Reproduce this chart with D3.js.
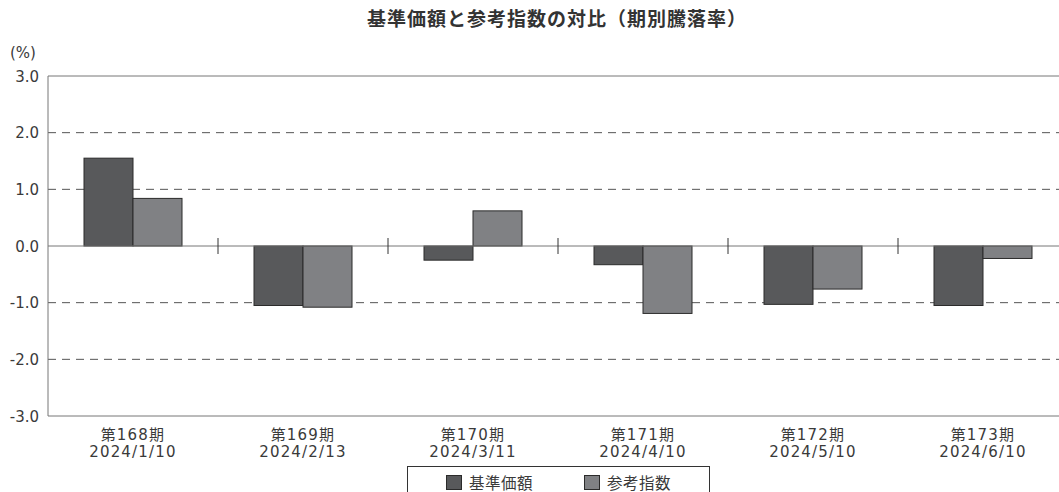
<!DOCTYPE html>
<html>
<head>
<meta charset="utf-8">
<script src="https://cdn.jsdelivr.net/npm/d3@7"></script>
<style>
  body { margin: 0; background: #fff; }
  svg { display: block; font-family: "DejaVu Sans", "Noto Sans CJK JP", sans-serif; }
</style>
</head>
<body>
<svg id="chart" width="1059" height="492"></svg>
<script>
const periods = ['第168期', '第169期', '第170期', '第171期', '第172期', '第173期']
const dates = ['2024/1/10', '2024/2/13', '2024/3/11', '2024/4/10', '2024/5/10', '2024/6/10']
const navChange = [1.55, -1.05, -0.25, -0.33, -1.03, -1.05]
const refChange = [0.84, -1.08, 0.62, -1.19, -0.76, -0.22]
const yTicks = [3, 2, 1, 0, -1, -2, -3]
const seriesNames = ['基準価額', '参考指数']
const seriesColors = ['#58595b', '#808184']

const svg = d3.select('#chart')
const plotLeft = 48, plotTop = 76, plotBottom = 416, plotW = 1020

const x = d3.scaleBand(d3.range(periods.length), [plotLeft, plotLeft + plotW])
const y = d3.scaleLinear([-3, 3], [plotBottom, plotTop])
const barW = 49

// dashed grid lines
svg.append('g')
    .selectAll('line')
    .data(yTicks.filter(d => d !== 0 && d !== 3 && d !== -3))
    .join('line')
    .attr('x1', plotLeft)
    .attr('x2', 1059)
    .attr('y1', d => y(d))
    .attr('y2', d => y(d))
    .attr('stroke', '#555')
    .attr('stroke-dasharray', '8,6')
    .attr('stroke-width', 1)

// bars
const groups = svg.append('g')
    .selectAll('g')
    .data(periods.map((p, i) => [navChange[i], refChange[i]]))
    .join('g')
    .attr('transform', (d, i) => `translate(${x(i) + x.bandwidth() / 2 - barW}, 0)`)

groups.selectAll('rect')
    .data(d => d)
    .join('rect')
    .attr('x', (d, j) => j * barW)
    .attr('width', barW)
    .attr('y', d => y(Math.max(0, d)))
    .attr('height', d => Math.abs(y(d) - y(0)))
    .attr('fill', (d, j) => seriesColors[j])
    .attr('stroke', '#2b2b2b')
    .attr('stroke-width', 1)

// frame lines
svg.append('line')
    .attr('x1', plotLeft).attr('x2', 1059)
    .attr('y1', plotTop).attr('y2', plotTop)
    .attr('stroke', '#777')
svg.append('line')
    .attr('x1', plotLeft).attr('x2', 1059)
    .attr('y1', plotBottom).attr('y2', plotBottom)
    .attr('stroke', '#777')
svg.append('line')
    .attr('x1', plotLeft).attr('x2', plotLeft)
    .attr('y1', plotTop).attr('y2', plotBottom)
    .attr('stroke', '#777')
svg.append('line')
    .attr('x1', plotLeft).attr('x2', 1059)
    .attr('y1', y(0)).attr('y2', y(0))
    .attr('stroke', '#777')

// separator ticks on zero line
svg.append('g')
    .selectAll('line')
    .data(d3.range(1, periods.length))
    .join('line')
    .attr('x1', i => x(i))
    .attr('x2', i => x(i))
    .attr('y1', y(0) - 8)
    .attr('y2', y(0) + 8)
    .attr('stroke', '#333')

// y labels
svg.append('g')
    .selectAll('text')
    .data(yTicks)
    .join('text')
    .attr('x', 39)
    .attr('y', d => y(d) + 5.5)
    .attr('text-anchor', 'end')
    .text(d => d.toFixed(1))
    .attr('font-size', '15px')
    .attr('fill', '#3a3a3a')

svg.append('text')
    .attr('x', 10)
    .attr('y', 58)
    .text('(%)')
    .attr('font-size', '15px')
    .attr('fill', '#3a3a3a')

// x labels
const xl = svg.append('g')
    .selectAll('text')
    .data(periods)
    .join('text')
    .attr('text-anchor', 'middle')
    .attr('font-size', '15px')
    .attr('letter-spacing', '1.2px')
    .attr('fill', '#3a3a3a')
xl.append('tspan')
    .attr('x', (d, i) => x(i) + x.bandwidth() / 2)
    .attr('y', 440)
    .text(d => d)
xl.append('tspan')
    .attr('x', (d, i) => x(i) + x.bandwidth() / 2)
    .attr('y', 457)
    .text((d, i) => dates[i])

// title
svg.append('text')
    .text('基準価額と参考指数の対比（期別騰落率）')
    .attr('x', 557)
    .attr('y', 26)
    .attr('text-anchor', 'middle')
    .attr('font-family', '"Noto Sans CJK JP", sans-serif')
    .attr('font-size', '19px')
    .attr('letter-spacing', '1px')
    .attr('font-weight', 'bold')
    .attr('fill', '#333')

// legend
const legend = svg.append('g')
legend.append('rect')
    .attr('x', 407.5).attr('y', 466.5)
    .attr('width', 302).attr('height', 30)
    .attr('fill', 'none')
    .attr('stroke', '#333')
const items = legend.selectAll('g')
    .data(seriesNames)
    .join('g')
    .attr('transform', (d, i) => `translate(${446 + i * 138}, 0)`)
items.append('rect')
    .attr('x', 0.5).attr('y', 475.5)
    .attr('width', 15).attr('height', 14)
    .attr('fill', (d, i) => seriesColors[i])
    .attr('stroke', '#2b2b2b')
items.append('text')
    .attr('x', 23).attr('y', 489)
    .text(d => d)
    .attr('font-size', '15.5px')
    .attr('letter-spacing', '0.5px')
    .attr('fill', '#3a3a3a')
</script>
</body>
</html>
